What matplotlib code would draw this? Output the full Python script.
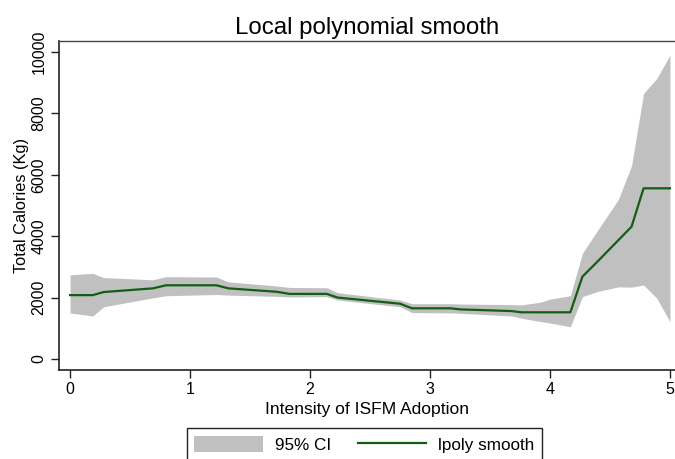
import matplotlib
matplotlib.use("Agg")
import matplotlib.pyplot as plt
from matplotlib.patches import Patch
from matplotlib.lines import Line2D

plt.rcParams["font.family"] = ["Liberation Sans", "DejaVu Sans"]

# intensity of ISFM adoption (evaluation grid)
x = [0.0, 0.19, 0.28, 0.69, 0.80, 1.22, 1.32, 1.72, 1.83, 2.14, 2.23, 2.75, 2.85,
     3.17, 3.25, 3.68, 3.76, 3.92, 4.0, 4.17, 4.27, 4.39, 4.57, 4.68, 4.78, 4.89, 5.0]
# lpoly smooth
fit = [2080, 2080, 2180, 2300, 2400, 2400, 2300, 2190, 2120, 2120, 2000, 1800, 1650,
       1650, 1615, 1560, 1520, 1520, 1520, 1520, 2680, 3150, 3870, 4310, 5560, 5560, 5560]
# 95% CI bounds
ci_hi = [2740, 2790, 2650, 2580, 2680, 2670, 2510, 2380, 2330, 2320, 2160, 1920, 1800,
         1800, 1790, 1770, 1760, 1850, 1950, 2060, 3440, 4150, 5200, 6300, 8650, 9140, 9900]
ci_lo = [1500, 1400, 1700, 1990, 2060, 2100, 2080, 2040, 2020, 2030, 1920, 1700, 1510,
         1500, 1490, 1400, 1330, 1220, 1170, 1050, 2030, 2190, 2350, 2340, 2410, 1980, 1215]

xticks = [0, 1, 2, 3, 4, 5]
yticks = [0, 2000, 4000, 6000, 8000, 10000]

band_col = "#c0c0c0"
line_col = "#125e12"

fig = plt.figure(figsize=(6.75, 4.59), dpi=100)
ax = fig.add_axes([59 / 675, 89 / 459, 616 / 675, 329 / 459])

ax.fill_between(x, ci_lo, ci_hi, color=band_col, lw=0)
ax.plot(x, fit, color=line_col, lw=1.6)

ax.set_xlim(-0.092, 5.042)
ax.set_ylim(-360, 10360)
ax.set_xticks(xticks)
ax.set_yticks(yticks)
ax.tick_params(axis="both", direction="out", length=6, width=1, labelsize=11.5, color="#222222")
ax.tick_params(axis="x", pad=3)
ax.tick_params(axis="y", pad=3)
for lab in ax.get_yticklabels():
    lab.set_rotation(90)
    lab.set_va("center")

for s in ["left", "bottom"]:
    ax.spines[s].set_linewidth(1.2)
    ax.spines[s].set_color("#222222")
ax.spines["top"].set_linewidth(1.0)
ax.spines["top"].set_color("#444444")
ax.spines["right"].set_visible(False)

ax.set_xlabel("Intensity of ISFM Adoption", fontsize=12.6, labelpad=3)
ax.set_ylabel("Total Calories (Kg)", fontsize=11.8, labelpad=2)
ax.set_title("Local polynomial smooth", fontsize=17.3, pad=5)

handles = [Patch(facecolor=band_col, edgecolor="none"),
           Line2D([], [], color=line_col, lw=1.6)]
leg = fig.legend(handles, ["95% CI", "lpoly smooth"], loc="upper center",
                 bbox_to_anchor=(0.54, 1 - 428 / 459), ncol=2, fontsize=12.3,
                 handlelength=4.0, handleheight=1.1, columnspacing=1.6,
                 handletextpad=0.7, borderpad=0.45, borderaxespad=0,
                 fancybox=False, framealpha=1)
leg.get_frame().set_edgecolor("#222222")
leg.get_frame().set_linewidth(1.0)

fig.savefig("out.png", dpi=100)
